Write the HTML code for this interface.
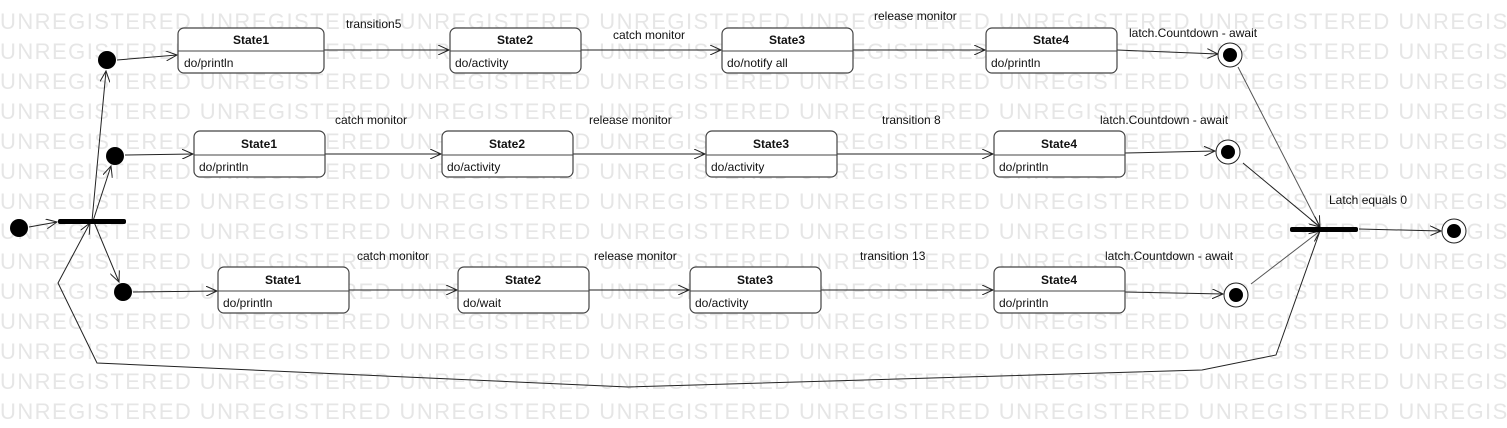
<!DOCTYPE html>
<html><head><meta charset="utf-8"><style>
body{margin:0;background:#fff;}
svg{display:block;font-family:"Liberation Sans",sans-serif;}
.wm{font-size:22px;fill:#e6e6e6;letter-spacing:1.45px;}
.st rect{fill:#fff;stroke:#444;stroke-width:1.2;}
.t{font-size:12px;fill:#111;}
.b{font-size:12px;font-weight:bold;fill:#111;text-anchor:middle;}
</style></head><body>
<svg width="1507" height="428" viewBox="0 0 1507 428" xmlns="http://www.w3.org/2000/svg">
<defs>
<marker id="a" markerWidth="12" markerHeight="10" refX="11" refY="5" orient="auto" markerUnits="userSpaceOnUse">
<path d="M0,0 L11,5 L0,10" fill="none" stroke="#222" stroke-width="1"/></marker>
</defs>
<g class="wm">
<text x="0" y="29">UNREGISTERED UNREGISTERED UNREGISTERED UNREGISTERED UNREGISTERED UNREGISTERED UNREGISTERED UNREGISTERED</text>
<text x="0" y="59">UNREGISTERED UNREGISTERED UNREGISTERED UNREGISTERED UNREGISTERED UNREGISTERED UNREGISTERED UNREGISTERED</text>
<text x="0" y="89">UNREGISTERED UNREGISTERED UNREGISTERED UNREGISTERED UNREGISTERED UNREGISTERED UNREGISTERED UNREGISTERED</text>
<text x="0" y="119">UNREGISTERED UNREGISTERED UNREGISTERED UNREGISTERED UNREGISTERED UNREGISTERED UNREGISTERED UNREGISTERED</text>
<text x="0" y="149">UNREGISTERED UNREGISTERED UNREGISTERED UNREGISTERED UNREGISTERED UNREGISTERED UNREGISTERED UNREGISTERED</text>
<text x="0" y="179">UNREGISTERED UNREGISTERED UNREGISTERED UNREGISTERED UNREGISTERED UNREGISTERED UNREGISTERED UNREGISTERED</text>
<text x="0" y="209">UNREGISTERED UNREGISTERED UNREGISTERED UNREGISTERED UNREGISTERED UNREGISTERED UNREGISTERED UNREGISTERED</text>
<text x="0" y="239">UNREGISTERED UNREGISTERED UNREGISTERED UNREGISTERED UNREGISTERED UNREGISTERED UNREGISTERED UNREGISTERED</text>
<text x="0" y="269">UNREGISTERED UNREGISTERED UNREGISTERED UNREGISTERED UNREGISTERED UNREGISTERED UNREGISTERED UNREGISTERED</text>
<text x="0" y="299">UNREGISTERED UNREGISTERED UNREGISTERED UNREGISTERED UNREGISTERED UNREGISTERED UNREGISTERED UNREGISTERED</text>
<text x="0" y="329">UNREGISTERED UNREGISTERED UNREGISTERED UNREGISTERED UNREGISTERED UNREGISTERED UNREGISTERED UNREGISTERED</text>
<text x="0" y="359">UNREGISTERED UNREGISTERED UNREGISTERED UNREGISTERED UNREGISTERED UNREGISTERED UNREGISTERED UNREGISTERED</text>
<text x="0" y="389">UNREGISTERED UNREGISTERED UNREGISTERED UNREGISTERED UNREGISTERED UNREGISTERED UNREGISTERED UNREGISTERED</text>
<text x="0" y="419">UNREGISTERED UNREGISTERED UNREGISTERED UNREGISTERED UNREGISTERED UNREGISTERED UNREGISTERED UNREGISTERED</text>
</g>

<g stroke="#222" stroke-width="1" fill="none">
<line x1="29" y1="227" x2="57" y2="222" marker-end="url(#a)"/>
<line x1="92" y1="221" x2="106" y2="71" marker-end="url(#a)"/>
<line x1="93" y1="221" x2="111" y2="166" marker-end="url(#a)"/>
<line x1="94" y1="222" x2="119" y2="282" marker-end="url(#a)"/>
<line x1="117" y1="60" x2="177" y2="55" marker-end="url(#a)"/>
<line x1="125" y1="155" x2="193" y2="154" marker-end="url(#a)"/>
<line x1="133" y1="292" x2="217" y2="291" marker-end="url(#a)"/>
<line x1="324" y1="50" x2="449" y2="50" marker-end="url(#a)"/>
<line x1="581" y1="50" x2="721" y2="50" marker-end="url(#a)"/>
<line x1="853" y1="50" x2="985" y2="50" marker-end="url(#a)"/>
<line x1="1117" y1="50" x2="1218" y2="54" marker-end="url(#a)"/>
<line x1="325" y1="154" x2="441" y2="154" marker-end="url(#a)"/>
<line x1="573" y1="154" x2="705" y2="154" marker-end="url(#a)"/>
<line x1="837" y1="154" x2="993" y2="154" marker-end="url(#a)"/>
<line x1="1125" y1="153" x2="1215" y2="151" marker-end="url(#a)"/>
<line x1="349" y1="290" x2="457" y2="290" marker-end="url(#a)"/>
<line x1="589" y1="290" x2="689" y2="290" marker-end="url(#a)"/>
<line x1="821" y1="290" x2="993" y2="290" marker-end="url(#a)"/>
<line x1="1125" y1="292" x2="1223" y2="294" marker-end="url(#a)"/>
<line x1="1238" y1="67" x2="1320" y2="227" marker-end="url(#a)" stroke="#555"/>
<line x1="1243" y1="163" x2="1320" y2="227" marker-end="url(#a)"/>
<line x1="1251" y1="284" x2="1320" y2="231" marker-end="url(#a)" stroke="#555"/>
<line x1="1359" y1="229" x2="1441" y2="231" marker-end="url(#a)"/>
<polyline points="1320,231 1276,355 1202,370 628,387 97,363 58,283 90,223" marker-end="url(#a)"/>
</g>

<g fill="#000">
<circle cx="19" cy="228" r="9"/>
<circle cx="107" cy="60" r="9"/>
<circle cx="115" cy="156" r="9"/>
<circle cx="123" cy="292" r="9"/>
<rect x="58" y="219" width="68" height="5" rx="2"/>
<rect x="1290" y="227" width="68" height="5" rx="2"/>
</g>
<g>
<circle cx="1230" cy="55" r="12" fill="#fff" stroke="#222"/><circle cx="1230" cy="55" r="7"/>
<circle cx="1228" cy="152" r="12" fill="#fff" stroke="#222"/><circle cx="1228" cy="152" r="7"/>
<circle cx="1236" cy="295" r="12" fill="#fff" stroke="#222"/><circle cx="1236" cy="295" r="7"/>
<circle cx="1454" cy="231" r="12" fill="#fff" stroke="#222"/><circle cx="1454" cy="231" r="7"/>
</g>

<g class="st">
<rect x="178" y="28" width="146" height="45" rx="6"/><line x1="178" y1="51" x2="324" y2="51" stroke="#444"/>
<rect x="450" y="28" width="131" height="45" rx="6"/><line x1="450" y1="51" x2="581" y2="51" stroke="#444"/>
<rect x="722" y="28" width="131" height="45" rx="6"/><line x1="722" y1="51" x2="853" y2="51" stroke="#444"/>
<rect x="986" y="28" width="131" height="45" rx="6"/><line x1="986" y1="51" x2="1117" y2="51" stroke="#444"/>
<rect x="194" y="131" width="131" height="46" rx="6"/><line x1="194" y1="155" x2="325" y2="155" stroke="#444"/>
<rect x="442" y="131" width="131" height="46" rx="6"/><line x1="442" y1="155" x2="573" y2="155" stroke="#444"/>
<rect x="706" y="131" width="131" height="46" rx="6"/><line x1="706" y1="155" x2="837" y2="155" stroke="#444"/>
<rect x="994" y="131" width="131" height="46" rx="6"/><line x1="994" y1="155" x2="1125" y2="155" stroke="#444"/>
<rect x="218" y="267" width="131" height="46" rx="6"/><line x1="218" y1="291" x2="349" y2="291" stroke="#444"/>
<rect x="458" y="267" width="131" height="46" rx="6"/><line x1="458" y1="291" x2="589" y2="291" stroke="#444"/>
<rect x="690" y="267" width="131" height="46" rx="6"/><line x1="690" y1="291" x2="821" y2="291" stroke="#444"/>
<rect x="994" y="267" width="131" height="46" rx="6"/><line x1="994" y1="291" x2="1125" y2="291" stroke="#444"/>
</g>
<g>
<text class="b" x="251" y="44">State1</text><text class="t" x="184" y="67">do/println</text>
<text class="b" x="515" y="44">State2</text><text class="t" x="455" y="67">do/activity</text>
<text class="b" x="787" y="44">State3</text><text class="t" x="727" y="67">do/notify all</text>
<text class="b" x="1051" y="44">State4</text><text class="t" x="991" y="67">do/println</text>
<text class="b" x="259" y="148">State1</text><text class="t" x="199" y="171">do/println</text>
<text class="b" x="507" y="148">State2</text><text class="t" x="447" y="171">do/activity</text>
<text class="b" x="771" y="148">State3</text><text class="t" x="711" y="171">do/activity</text>
<text class="b" x="1059" y="148">State4</text><text class="t" x="999" y="171">do/println</text>
<text class="b" x="283" y="284">State1</text><text class="t" x="223" y="307">do/println</text>
<text class="b" x="523" y="284">State2</text><text class="t" x="463" y="307">do/wait</text>
<text class="b" x="755" y="284">State3</text><text class="t" x="695" y="307">do/activity</text>
<text class="b" x="1059" y="284">State4</text><text class="t" x="999" y="307">do/println</text>
</g>
<g class="t">
<text x="346" y="28">transition5</text>
<text x="613" y="39">catch monitor</text>
<text x="874" y="20">release monitor</text>
<text x="1129" y="37">latch.Countdown - await</text>
<text x="335" y="124">catch monitor</text>
<text x="589" y="124">release monitor</text>
<text x="882" y="124">transition 8</text>
<text x="1100" y="124">latch.Countdown - await</text>
<text x="357" y="260">catch monitor</text>
<text x="594" y="260">release monitor</text>
<text x="860" y="260">transition 13</text>
<text x="1105" y="260">latch.Countdown - await</text>
<text x="1329" y="204">Latch equals 0</text>
</g>
</svg>
</body></html>
